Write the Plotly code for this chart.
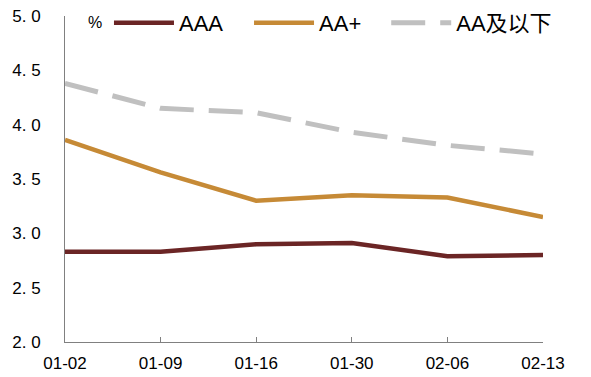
import plotly.graph_objects as go

dates = ["01-02", "01-09", "01-16", "01-30", "02-06", "02-13"]
aaa = [2.83, 2.83, 2.90, 2.91, 2.79, 2.80]
aa_plus = [3.86, 3.56, 3.30, 3.35, 3.33, 3.15]
aa_below = [4.38, 4.15, 4.11, 3.93, 3.81, 3.73]
y_ticks = [2.0, 2.5, 3.0, 3.5, 4.0, 4.5, 5.0]
y_tick_text = ["2. 0", "2. 5", "3. 0", "3. 5", "4. 0", "4. 5", "5. 0"]

fig = go.Figure()
fig.add_trace(go.Scatter(x=dates, y=aaa, name="AAA", mode="lines", legend="legend",
                         line=dict(color="#6B2525", width=4.5)))
fig.add_trace(go.Scatter(x=dates, y=aa_plus, name="AA+", mode="lines", legend="legend2",
                         line=dict(color="#C68A36", width=4.5)))
fig.add_trace(go.Scatter(x=dates, y=aa_below, name="AA及以下", mode="lines", legend="legend3",
                         line=dict(color="#C0C0C0", width=5, dash="34px,15px")))

leg_common = dict(orientation="h", y=0.979, xanchor="left", yanchor="middle",
                  font=dict(size=22, family="Liberation Sans, Noto Sans CJK SC, sans-serif"),
                  bgcolor="rgba(0,0,0,0)", itemwidth=60)

fig.update_layout(
    width=591, height=377,
    margin=dict(l=65, r=48, t=16, b=35, autoexpand=False),
    paper_bgcolor="white", plot_bgcolor="white",
    font=dict(family="Liberation Sans, Arial, sans-serif", size=16, color="black"),
    showlegend=True,
    legend=dict(x=0.092, **leg_common),
    legend2=dict(x=0.385, **leg_common),
    legend3=dict(x=0.672, **leg_common),
    xaxis=dict(type="category", range=[0, 5], showline=True, linecolor="#808080", linewidth=1,
               ticks="inside", ticklen=5, tickcolor="#808080", showgrid=False, zeroline=False,
               tickfont=dict(size=17), ticklabelstandoff=6),
    yaxis=dict(range=[2.0, 5.0], tickvals=y_ticks, ticktext=y_tick_text, showline=True,
               linecolor="#808080", linewidth=1, ticks="outside", ticklen=20,
               tickcolor="rgba(0,0,0,0)", showgrid=False, zeroline=False, tickfont=dict(size=17)),
    yaxis2=dict(range=[2.0, 5.0], tickvals=y_ticks, overlaying="y", side="left",
                showline=False, ticks="inside", ticklen=5, tickcolor="#808080",
                showticklabels=False, showgrid=False, zeroline=False),
    annotations=[dict(text="%", x=0.063, y=0.979, xref="paper", yref="paper",
                      showarrow=False, font=dict(size=16), xanchor="center", yanchor="middle")],
)
fig.write_html("out.html", config={"displayModeBar": False},
               post_script="document.body.style.margin='0';document.body.style.padding='0';")
